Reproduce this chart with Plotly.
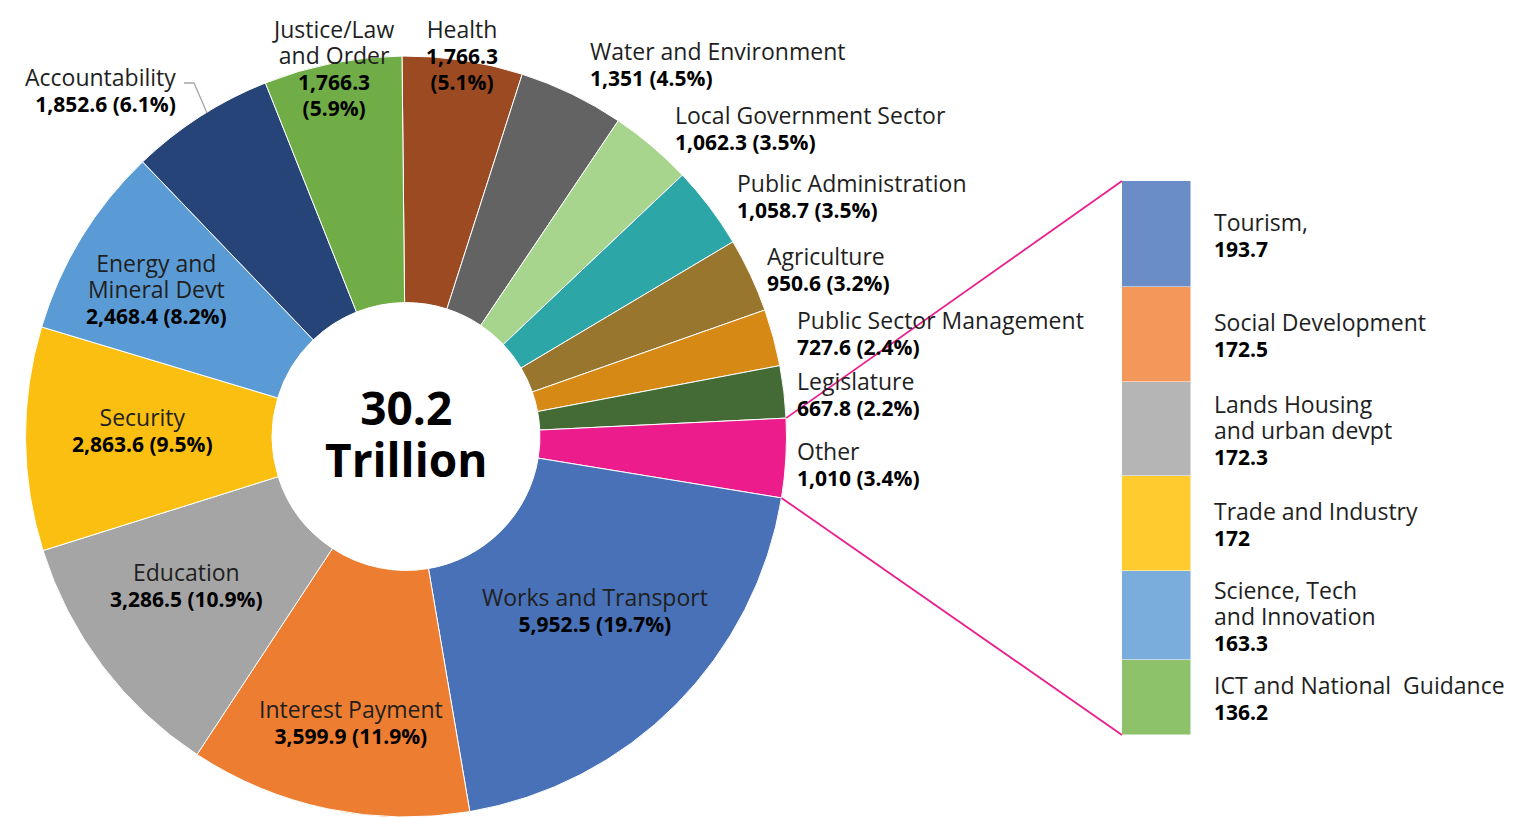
import math
import plotly.graph_objects as go

# ---------------- data ----------------
sectors = ["Health", "Water and Environment", "Local Government Sector", "Public Administration",
           "Agriculture", "Public Sector Management", "Legislature", "Other",
           "Works and Transport", "Interest Payment", "Education", "Security",
           "Energy and Mineral Devt", "Accountability", "Justice/Law and Order"]
# slice sizes as drawn (Health slice is drawn at ~5.1%)
values = [1540.0, 1351.0, 1062.3, 1058.7, 950.6, 727.6, 667.8, 1010.0,
          5952.5, 3599.9, 3286.5, 2863.6, 2468.4, 1852.6, 1766.3]
shown_values = ["1,766.3", "1,351", "1,062.3", "1,058.7", "950.6", "727.6", "667.8", "1,010",
                "5,952.5", "3,599.9", "3,286.5", "2,863.6", "2,468.4", "1,852.6", "1,766.3"]
shown_pct = ["5.1%", "4.5%", "3.5%", "3.5%", "3.2%", "2.4%", "2.2%", "3.4%",
             "19.7%", "11.9%", "10.9%", "9.5%", "8.2%", "6.1%", "5.9%"]
colors = ["#9C4A22", "#636363", "#A8D58D", "#2CA6A6", "#98762D", "#D68914", "#446A35", "#EC1C8C",
          "#4871B7", "#ED7D31", "#A5A5A5", "#FBBF12", "#5B9BD5", "#264478", "#70AD47"]
center_lines = ["30.2", "Trillion"]

other_sectors = ["Tourism,", "Social Development", "Lands Housing|and urban devpt",
                 "Trade and Industry", "Science, Tech|and Innovation", "ICT and National  Guidance"]
other_values = [193.7, 172.5, 172.3, 172.0, 163.3, 136.2]
other_shown = ["193.7", "172.5", "172.3", "172", "163.3", "136.2"]
other_colors = ["#6A8CC7", "#F4975A", "#B4B5B4", "#FFCB2F", "#7AACDC", "#8DC26A"]

# ---------------- layout constants (pixels of the final picture) ----------------
W, H = 1513, 817
OFF = 8  # page body margin
CX, CY, R = 406.0, 436.5, 380.5
HOLE = 0.352
ROT = -0.6
BAR_X0, BAR_X1, BAR_Y0, BAR_Y1 = 1122, 1191, 181, 735
FONT = "Open Sans"
TXT = "#1F1F1F"
BASE = 20          # block font size -> 26 px line spacing
REG, BOLD = 23, 21
LS = 26


def px(x):
    return (x - OFF) / W


def py(y):
    return 1 - (y - OFF) / H


def reg(t):
    return '<span style="font-size:{}px;color:{}">{}</span>'.format(REG, TXT, t)


def bold(t):
    return '<span style="font-size:{}px"><b>{}</b></span>'.format(BOLD, t)


fig = go.Figure()

fig.add_trace(go.Pie(
    labels=sectors, values=values, sort=False, direction="clockwise", rotation=ROT,
    hole=HOLE, textinfo="none", hoverinfo="label+value",
    marker=dict(colors=colors, line=dict(color="#FFFFFF", width=1)),
    domain=dict(x=[px(CX - R), px(CX + R)], y=[py(CY + R), py(CY - R)]),
    showlegend=False,
))

# bar of the "Other" breakdown (stacked bottom-up: last item at bottom)
total_other = sum(other_values)
for name, v, c in list(zip(other_sectors, other_values, other_colors))[::-1]:
    fig.add_trace(go.Bar(x=[0], y=[v], name=name.replace("|", " "),
                         marker=dict(color=c, line=dict(color="#FFFFFF", width=0.5)),
                         width=1, xaxis="x", yaxis="y", showlegend=False, hoverinfo="name+y"))

annotations = []


def add_block(parts, x, yc, anchor, size=BASE):
    annotations.append(dict(
        x=x, y=yc, xref="paper", yref="paper", xanchor=anchor, yanchor="middle",
        align=anchor, showarrow=False, text="<br>".join(parts),
        font=dict(family=FONT, size=size, color="#000000")))


# ---------------- pie labels ----------------
# (x, y of first line, xanchor) for each sector label
label_pos = {
    "Health": (462, 28, "center"),
    "Water and Environment": (588, 50, "left"),
    "Local Government Sector": (673, 115, "left"),
    "Public Administration": (735, 182, "left"),
    "Agriculture": (765, 255, "left"),
    "Public Sector Management": (795, 320, "left"),
    "Legislature": (795, 380, "left"),
    "Other": (795, 450, "left"),
    "Works and Transport": (595, 596, "center"),
    "Interest Payment": (351, 708, "center"),
    "Education": (186, 571, "center"),
    "Security": (142, 416, "center"),
    "Energy and Mineral Devt": (156, 262, "center"),
    "Accountability": (178, 76, "right"),
    "Justice/Law and Order": (333, 28, "center"),
}
name_lines = {
    "Energy and Mineral Devt": ["Energy and", "Mineral Devt"],
    "Justice/Law and Order": ["Justice/Law", "and Order"],
}
split_value = {"Health", "Justice/Law and Order"}

for s, v, p in zip(sectors, shown_values, shown_pct):
    x, y0, anc = label_pos[s]
    parts = [reg(t) for t in name_lines.get(s, [s])]
    if s in split_value:
        parts += [bold(v), bold("(" + p + ")")]
    else:
        parts += [bold(v + " (" + p + ")")]
    yc = y0 + (len(parts) - 1) * LS / 2
    add_block(parts, px(x), py(yc), anc)

# centre text
annotations.append(dict(
    x=px(CX), y=py(433), xref="paper", yref="paper", xanchor="center", yanchor="middle",
    showarrow=False, text="<br>".join('<span style="font-size:46px"><b>{}</b></span>'.format(t)
                                      for t in center_lines),
    font=dict(family=FONT, size=40, color="#000000")))

# bar labels centred on each segment
cum = total_other
bar_dom = [py(BAR_Y1), py(BAR_Y0)]
for name, v, sv in zip(other_sectors, other_values, other_shown):
    mid = cum - v / 2
    cum -= v
    parts = [reg(t) for t in name.split("|")] + [bold(sv)]
    mid_px = BAR_Y1 - (mid / total_other) * (BAR_Y1 - BAR_Y0)
    add_block(parts, px(1212), py(mid_px), "left")

# ---------------- connector lines ----------------
tot = sum(values)
i_other = sectors.index("Other")
f1 = sum(values[:i_other]) / tot
f2 = sum(values[:i_other + 1]) / tot


def edge(f):
    a = 2 * math.pi * f + math.radians(ROT)
    return CX + R * math.sin(a), CY - R * math.cos(a)


bx = px(BAR_X0)
x1, y1 = edge(f1)
x2, y2 = edge(f2)
shapes = [
    dict(type="line", xref="paper", yref="paper", x0=px(x1), y0=py(y1), x1=bx, y1=bar_dom[1],
         line=dict(color="#E91E8C", width=1.8)),
    dict(type="line", xref="paper", yref="paper", x0=px(x2), y0=py(y2), x1=bx, y1=bar_dom[0],
         line=dict(color="#E91E8C", width=1.8)),
    # Accountability leader line
    dict(type="path", xref="paper", yref="paper",
         path="M {} {} L {} {} L {} {}".format(px(184), py(83), px(194), py(83), px(207), py(113)),
         line=dict(color="#A6A6A6", width=1.3)),
]

fig.update_layout(
    width=W, height=H, margin=dict(l=0, r=0, t=0, b=0),
    paper_bgcolor="#FFFFFF", plot_bgcolor="rgba(0,0,0,0)",
    barmode="stack", bargap=0,
    xaxis=dict(domain=[px(BAR_X0), px(BAR_X1)], range=[-0.5, 0.5], visible=False, fixedrange=True),
    yaxis=dict(domain=bar_dom, range=[0, total_other], visible=False, fixedrange=True),
    annotations=annotations, shapes=shapes,
)

fig.write_html("out.html")
